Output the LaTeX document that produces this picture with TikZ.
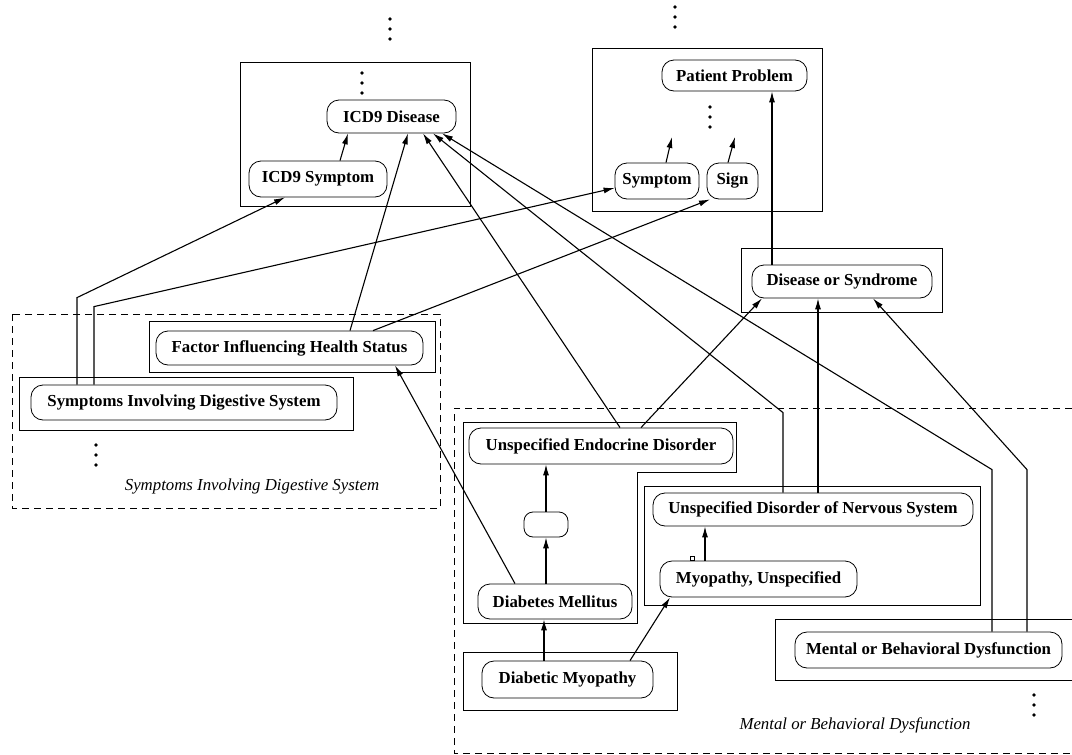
\documentclass[tikz,border=0pt]{standalone}
\usepackage{fontspec}
\setmainfont{Liberation Serif}
\usetikzlibrary{arrows.meta,calc}
\newcommand\stackdots[2]{\foreach \dy in {-10,0,10}{\fill (#1,#2+\dy) circle (1.9pt);}}
\begin{document}
\begin{tikzpicture}[x=1pt,y=-1pt,
  concept/.style={draw, rounded corners=12pt, line width=0.8pt, inner sep=0pt,
    font=\fontsize{16.8}{19}\selectfont\bfseries, anchor=center},
  frame/.style={draw, line width=0.8pt},
  region/.style={draw, dash pattern=on 7pt off 5pt, line width=0.7pt},
  link/.style={line width=1.1pt, -{Latex[length=11pt,width=6pt]}},
  caption/.style={font=\fontsize{16.8}{19}\selectfont\itshape}
]
\useasboundingbox (0,0) rectangle (1072,755);

% grouping regions
\draw[region] (12,314) rectangle (440,508);
\draw[region] (1072,408) -- (454,408) -- (454,753) -- (1072,753);

% frames around concept groups
\draw[frame] (240,62) rectangle (470,206);
\draw[frame] (592,48) rectangle (822,211);
\draw[frame] (741,248) rectangle (942,312);
\draw[frame] (149,321) rectangle (435,372);
\draw[frame] (19,377) rectangle (353,430);
\draw[frame] (463,422) -- (736,422) -- (736,472) -- (637,472) -- (637,623) -- (463,623) -- cycle;
\draw[frame] (644,486) rectangle (980,605);
\draw[frame] (463,652) rectangle (677,710);
\draw[frame] (1072,619) -- (775,619) -- (775,680) -- (1072,680);

% concepts
\node[concept, minimum width=129pt, minimum height=33pt] (icdd) at (391.5,116.5) {ICD9 Disease};
\node[concept, minimum width=138pt, minimum height=36pt] (icds) at (318,179) {ICD9 Symptom};
\node[concept, minimum width=145pt, minimum height=31pt] (pp) at (734.5,75.5) {Patient Problem};
\node[concept, minimum width=84pt, minimum height=36pt] (sym) at (657,181) {Symptom};
\node[concept, minimum width=51pt, minimum height=36pt] (sign) at (732.5,181) {Sign};
\node[concept, minimum width=180pt, minimum height=33pt] (ds) at (842,281.5) {Disease or Syndrome};
\node[concept, minimum width=267pt, minimum height=34pt] (fac) at (289.5,348) {Factor Influencing Health Status};
\node[concept, minimum width=306pt, minimum height=35pt] (sids) at (184,402.5) {Symptoms Involving Digestive System};
\node[concept, minimum width=264pt, minimum height=36pt] (endo) at (601,446) {Unspecified Endocrine Disorder};
\node[concept, minimum width=44pt, minimum height=25pt, rounded corners=9pt] (blank) at (546,524.5) {};
\node[concept, minimum width=154pt, minimum height=35pt] (dm) at (555,601.5) {Diabetes Mellitus};
\node[concept, minimum width=320pt, minimum height=33pt] (nerv) at (813,509.5) {Unspecified Disorder of Nervous System};
\node[concept, minimum width=197pt, minimum height=36pt] (myo) at (758.5,579) {Myopathy, Unspecified};
\node[concept, minimum width=171pt, minimum height=37pt] (diam) at (567.5,679.5) {Diabetic Myopathy};
\node[concept, minimum width=267pt, minimum height=36pt] (ment) at (928.5,650) {Mental or Behavioral Dysfunction};

% region captions
\node[caption] (capsym) at (252,486) {Symptoms Involving Digestive System};
\node[caption] (capment) at (855,725) {Mental or Behavioral Dysfunction};

% open ends of the hierarchy
\stackdots{390}{29}
\stackdots{675}{17}
\stackdots{362}{83}
\stackdots{710}{117}
\stackdots{96}{455}
\stackdots{1034}{705}
\coordinate (symup) at (672,137);
\coordinate (signup) at (735,137);

% is-a links
\draw[link] ([xshift=22pt]icds.north) -- ([xshift=-43.5pt]icdd.south);
\draw[link] ([xshift=9pt]sym.north) -- (symup);
\draw[link] ([xshift=-4.5pt]sign.north) -- (signup);
\draw[link] ([xshift=-70pt]ds.north) -- ([xshift=37.5pt]pp.south);
\draw[link] ([xshift=-107pt]sids.north) -- ++(0,-87) -- ([xshift=-33pt]icds.south);
\draw[link] ([xshift=-90pt]sids.north) -- ++(0,-78) -- ([yshift=-7pt]sym.west);
\draw[link] ([xshift=60.5pt]fac.north) -- ([xshift=16.5pt]icdd.south);
\draw[link] ([xshift=83.5pt]fac.north) -- ([xshift=-22.5pt]sign.south);
\draw[link] ([xshift=-40pt]dm.north) -- ([xshift=105.5pt]fac.south);
\draw[link] ([xshift=-9pt]dm.north) -- (blank.south);
\draw[link] (blank.north) -- ([xshift=-55pt]endo.south);
\draw[link] ([xshift=19pt]endo.north) -- ([xshift=31.5pt]icdd.south);
\draw[link] ([xshift=40pt]endo.north) -- ([xshift=-80pt]ds.south);
\draw[link] ([xshift=-30pt]nerv.north) -- ++(0,-80) -- ([xshift=41.5pt]icdd.south);
\draw[link] ([xshift=5pt]nerv.north) -- ([xshift=-24pt]ds.south);
\draw[link] ([xshift=-53.5pt]myo.north) -- ([xshift=-108pt]nerv.south);
\draw[link] ([xshift=-23.5pt]diam.north) -- ([xshift=-11pt]dm.south);
\draw[link] ([xshift=62.5pt]diam.north) -- ([xshift=-88.5pt]myo.south);
\draw[link] ([xshift=63.5pt]ment.north) -- ++(0,-162) -- ([xshift=50.5pt]icdd.south);
\draw[link] ([xshift=98.5pt]ment.north) -- ++(0,-162) -- ([xshift=31pt]ds.south);

% small mark beside the myopathy link
\draw[line width=0.5pt] (690,556) rectangle (694,560);
\end{tikzpicture}
\end{document}
